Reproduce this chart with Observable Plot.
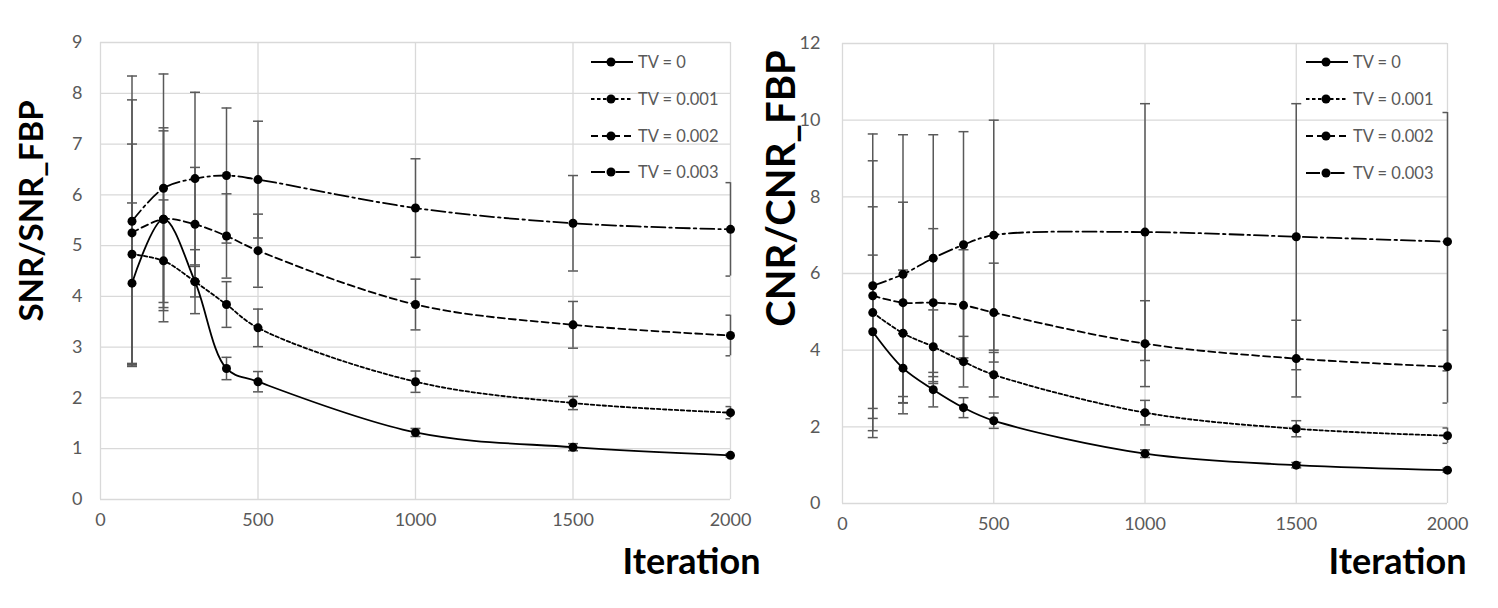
<!DOCTYPE html>
<html><head><meta charset="utf-8">
<script src="https://cdn.jsdelivr.net/npm/d3@7"></script>
<script src="https://cdn.jsdelivr.net/npm/@observablehq/plot@0.6"></script>
<style>
body{margin:0;background:#fff;}
#wrap{position:relative;width:1498px;height:608px;overflow:hidden;font-family:Lato,sans-serif;background:#fff;}
#left{position:absolute;left:0;top:0;}
#right{position:absolute;left:768px;top:0;}
.leg{position:absolute;display:flex;align-items:center;height:20px;font-size:16.5px;color:#595959;white-space:nowrap;}
.leg svg{margin-right:4px;}
</style></head><body><div id="wrap"><div id="left"></div><div id="right"></div></div>
<script>
// ---- data ----
const iterations = [100, 200, 300, 400, 500, 1000, 1500, 2000];
const seriesNames = ["TV = 0", "TV = 0.001", "TV = 0.002", "TV = 0.003"];
const xTicks = [0, 500, 1000, 1500, 2000];
const snrTicks = [0, 1, 2, 3, 4, 5, 6, 7, 8, 9];
const cnrTicks = [0, 2, 4, 6, 8, 10, 12];

const snrTV0    = [4.26, 5.52, 4.29, 2.58, 2.32, 1.32, 1.03, 0.87];
const snrTV0001 = [4.83, 4.70, 4.29, 3.84, 3.38, 2.32, 1.90, 1.71];
const snrTV0002 = [5.25, 5.52, 5.42, 5.19, 4.90, 3.84, 3.44, 3.23];
const snrTV0003 = [5.48, 6.13, 6.32, 6.38, 6.30, 5.74, 5.44, 5.32];
const snrErrTV0    = [1.58, 1.80, 0.30, 0.22, 0.20, 0.08, 0.07, 0.03];
const snrErrTV0001 = [2.17, 1.20, 0.63, 0.45, 0.37, 0.21, 0.13, 0.12];
const snrErrTV0002 = [2.62, 1.74, 1.12, 0.83, 0.72, 0.50, 0.46, 0.40];
const snrErrTV0003 = [2.86, 2.25, 1.70, 1.33, 1.15, 0.97, 0.94, 0.92];

const cnrTV0    = [4.48, 3.53, 2.97, 2.50, 2.16, 1.30, 1.00, 0.87];
const cnrTV0001 = [4.98, 4.44, 4.09, 3.70, 3.36, 2.37, 1.95, 1.77];
const cnrTV0002 = [5.42, 5.24, 5.24, 5.17, 4.98, 4.17, 3.78, 3.57];
const cnrTV0003 = [5.68, 5.98, 6.40, 6.75, 7.00, 7.08, 6.96, 6.83];
const cnrErrTV0    = [2.00, 0.90, 0.45, 0.26, 0.20, 0.10, 0.07, 0.05];
const cnrErrTV0001 = [2.76, 1.65, 0.96, 0.66, 0.58, 0.32, 0.21, 0.20];
const cnrErrTV0002 = [3.52, 2.62, 1.93, 1.45, 1.29, 1.12, 1.00, 0.95];
const cnrErrTV0003 = [3.96, 3.64, 3.22, 2.95, 3.00, 3.35, 3.47, 3.37];

// ---- styles ----
const dashes = [null, "3.5,2.5", "7,4", "14,4,2.5,4"];

function buildRows(vals, errs) {
  const rows = [];
  vals.forEach((arr, s) => arr.forEach((v, i) => rows.push({iter: iterations[i], v, e: errs[s][i], s})));
  return rows;
}
const snrRows = buildRows([snrTV0, snrTV0001, snrTV0002, snrTV0003], [snrErrTV0, snrErrTV0001, snrErrTV0002, snrErrTV0003]);
const cnrRows = buildRows([cnrTV0, cnrTV0001, cnrTV0002, cnrTV0003], [cnrErrTV0, cnrErrTV0001, cnrErrTV0002, cnrErrTV0003]);

const capSymbol = {draw(ctx, size) { const w = Math.sqrt(size / Math.PI); ctx.moveTo(-w, 0); ctx.lineTo(w, 0); }};

function chart(o) {
  const caps = o.rows.flatMap(d => [{iter: d.iter, y: d.v + d.e}, {iter: d.iter, y: d.v - d.e}]);
  return Plot.plot({
    width: o.width, height: 608,
    marginLeft: o.ml, marginRight: o.mr, marginTop: o.mt, marginBottom: o.mb,
    x: {domain: [0, 2000]},
    y: {domain: o.yDomain},
    style: {fontFamily: "Lato, sans-serif", fontSize: "18px", color: "#595959", background: "white", overflow: "visible"},
    marks: [
      Plot.gridY(o.yTicks, {stroke: "#d9d9d9", strokeOpacity: 1, strokeWidth: 1.3}),
      Plot.gridX(xTicks, {stroke: "#d9d9d9", strokeOpacity: 1, strokeWidth: 1.3}),
      Plot.axisY(o.yTicks, {tickSize: 0, tickPadding: o.ypad, label: null, tickFormat: d3.format("d")}),
      Plot.axisX(xTicks, {tickSize: 0, tickPadding: 14, label: null, tickFormat: d3.format("d")}),
      Plot.ruleX(o.rows, {x: "iter", y1: d => d.v - d.e, y2: d => d.v + d.e, stroke: "#595959", strokeWidth: 1.5}),
      Plot.dot(caps, {x: "iter", y: "y", symbol: capSymbol, r: 5, fill: "none", stroke: "#595959", strokeWidth: 1.5, clip: true}),
      ...seriesNames.map((name, s) => Plot.line(o.rows.filter(d => d.s === s), {
        x: "iter", y: "v", curve: "catmull-rom", stroke: "black", strokeWidth: 1.8,
        strokeDasharray: dashes[s] || undefined
      })),
      Plot.dot(o.rows, {x: "iter", y: "v", r: 4.5, fill: "black"}),
      Plot.text([o.ylabel], {frameAnchor: "left", textAnchor: "middle", lineAnchor: "middle", rotate: -90, dx: o.ylx, dy: o.yly, fontSize: o.ylSize, fontWeight: "bold", fill: "black"}),
      Plot.text(["Iteration"], {frameAnchor: "bottom-right", textAnchor: "end", lineAnchor: "middle", dx: o.xlx, dy: o.xly, fontSize: 36, fontWeight: "bold", fill: "black"})
    ]
  });
}

document.getElementById("left").append(chart({
  width: 768, ml: 100, mr: 38, mt: 42, mb: 109,
  yDomain: [0, 9], yTicks: snrTicks, rows: snrRows, ypad: 18,
  ylabel: "SNR/SNR_FBP", ylSize: 33, ylx: -68, yly: -60, xlx: 30, xly: 63
}));
document.getElementById("right").append(chart({
  width: 730, ml: 74, mr: 51, mt: 43, mb: 105,
  yDomain: [0, 12], yTicks: cnrTicks, rows: cnrRows, ypad: 22,
  ylabel: "CNR/CNR_FBP", ylSize: 40, ylx: -60, yly: -85, xlx: 19, xly: 59
}));

// ---- legends ----
function legend(left, tops) {
  const wrap = document.getElementById("wrap");
  seriesNames.forEach((name, s) => {
    const div = document.createElement("div");
    div.className = "leg";
    div.style.left = left + "px";
    div.style.top = (tops[s] - 10) + "px";
    const dash = dashes[s] ? `stroke-dasharray="${dashes[s]}"` : "";
    div.innerHTML = `<svg width="43" height="20"><line x1="0" x2="42" y1="10" y2="10" stroke="black" stroke-width="1.8" ${dash}/><circle cx="20" cy="10" r="4.5" fill="black"/></svg><span>${name}</span>`;
    wrap.append(div);
  });
}
legend(591, [62, 99, 136, 172]);
legend(1306, [62, 99, 136, 173]);
</script></body></html>
